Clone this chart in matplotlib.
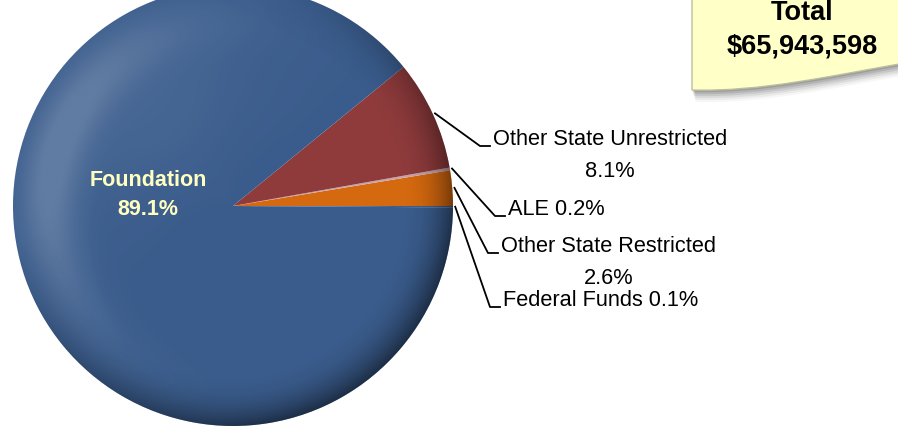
import numpy as np
import matplotlib.pyplot as plt
from matplotlib.patches import Circle, PathPatch
from matplotlib.path import Path

# data (counter-clockwise from 3 o'clock)
labels = ['Other State Restricted', 'ALE', 'Other State Unrestricted', 'Foundation', 'Federal Funds']
values = [2.6, 0.2, 8.1, 89.1, 0.1]
pct_text = ['2.6%', '0.2%', '8.1%', '89.1%', '0.1%']
colors = ['#D5690F', '#C9A3AC', '#8F3B3C', '#3A5C8C', '#3D6090']
total_title = 'Total'
total_value = '$65,943,598'

W, H = 898, 428
plt.rcParams['font.family'] = ['Liberation Sans', 'DejaVu Sans']

fig = plt.figure(figsize=(W / 100, H / 100), dpi=100)
ax = fig.add_axes([0, 0, 1, 1])

cx, cy, R = 233, H - 206, 220
wedges, _ = ax.pie(values, colors=colors, startangle=0, counterclock=True,
                   center=(cx, cy), radius=R, wedgeprops=dict(linewidth=0))

# sphere-ish shading, clipped to the pie disc
n = 500
g = np.linspace(-1, 1, n)
U, V = np.meshgrid(g, g)
r = np.hypot(U, V)
th = np.degrees(np.arctan2(V, U)) % 360
dark = np.clip((r - 0.76) / 0.24, 0, 1) ** 2.2 * (0.4 + 0.6 * np.clip((U - V) / 1.2, -1, 1))
dark = np.clip(dark, 0, 1)
shade = np.zeros((n, n, 4))
shade[..., 3] = 0.5 * dark
light = np.exp(-((r - 0.84) / 0.09) ** 2 / 2) * np.exp(-((th - 165) / 38) ** 2 / 2)
light += 0.3 * np.exp(-((r - 0.6) / 0.3) ** 2 / 2) * np.exp(-((th - 130) / 40) ** 2 / 2)
glow = np.ones((n, n, 4))
glow[..., 3] = 0.2 * np.clip(light, 0, 1)
for img in (glow, shade):
    im = ax.imshow(img, extent=(cx - R, cx + R, cy - R, cy + R), origin='lower', zorder=3)
    im.set_clip_path(Circle((cx, cy), R, transform=ax.transData))

# Foundation label inside the pie
ax.text(148, H - 195, 'Foundation\n89.1%', ha='center', va='center', fontsize=15.5,
        fontweight='bold', color='#FFFFC0', linespacing=1.5, zorder=5)

# outside labels with elbow leader lines
fs = 15.7
elbows = {2: (480, 146), 1: (495, 216), 0: (488, 253), 4: (490, 307)}
two_line = {2: True, 1: False, 0: True, 4: False}
for i, (ex, ey) in elbows.items():
    w = wedges[i]
    mid = np.radians((w.theta1 + w.theta2) / 2)
    x0 = cx + R * 1.01 * np.cos(mid)
    y0 = cy + R * 1.01 * np.sin(mid)
    ax.plot([x0, ex, ex + 10], [y0, H - ey, H - ey], color='black', lw=1.3, zorder=6)
    if two_line[i]:
        t = ax.text(ex + 13, H - ey + 1, labels[i], ha='left', va='baseline', fontsize=fs, zorder=6)
        ax.annotate(pct_text[i], xy=(0.5, 0), xycoords=t, xytext=(0, -8),
                    textcoords='offset points', ha='center', va='top', fontsize=fs)
    else:
        ax.text(ex + 13, H - ey + 1, labels[i] + ' ' + pct_text[i], ha='left',
                va='baseline', fontsize=fs, zorder=6)

# note-style callout in the top right corner
verts = [(692, H + 10), (692, H - 90), (760, H - 92), (830, H - 76), (905, H - 63),
         (905, H + 10), (692, H + 10)]
codes = [Path.MOVETO, Path.LINETO, Path.CURVE4, Path.CURVE4, Path.CURVE4,
         Path.LINETO, Path.CLOSEPOLY]
for k, a in zip(range(12, 0, -2), np.linspace(0.03, 0.12, 6)):
    sv = [(x + k * 0.3, y - k) for x, y in verts]
    ax.add_patch(PathPatch(Path(sv, codes), facecolor='black', edgecolor='none', alpha=a, zorder=7))
ax.add_patch(PathPatch(Path(verts, codes), facecolor='#FFFFC8', edgecolor='#BDBDA0', lw=1, zorder=8))
ax.text(802, H - 20, total_title, ha='center', va='baseline', fontsize=19.5, fontweight='bold', zorder=9)
ax.text(802, H - 53, total_value, ha='center', va='baseline', fontsize=19.5, fontweight='bold', zorder=9)

ax.set_xlim(0, W)
ax.set_ylim(0, H)
ax.set_aspect('auto')
ax.axis('off')
fig.savefig('out.png', dpi=100)
